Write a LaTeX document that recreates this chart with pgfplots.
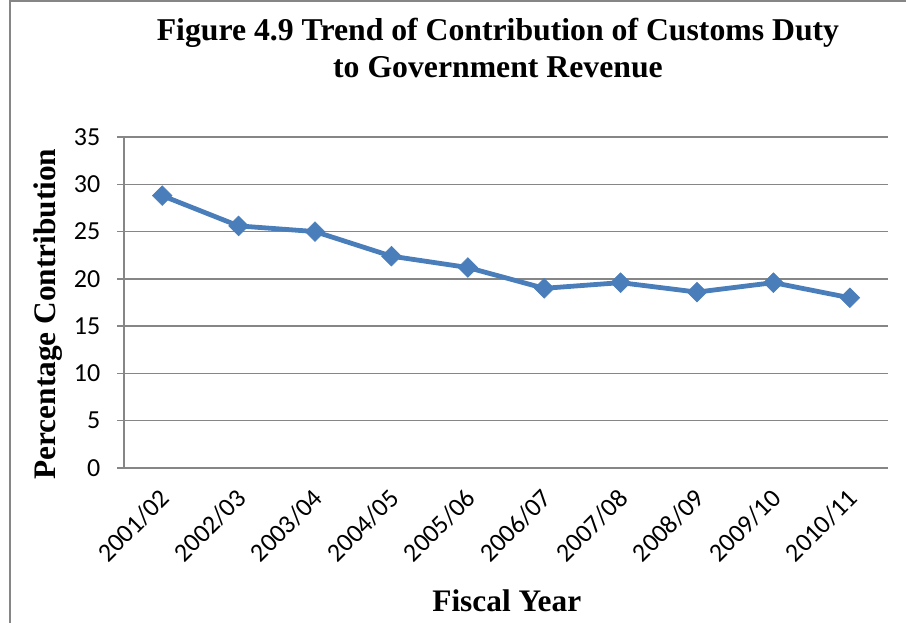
\documentclass[border=0pt]{standalone}
\usepackage{pgfplots}
\pgfplotsset{compat=1.18}
\usepackage{fontspec}
\setmainfont{Liberation Serif}
\newfontfamily\calibri{Carlito}
\definecolor{excelblue}{HTML}{4A7EBB}
\definecolor{gridgray}{HTML}{868686}
\begin{document}
\begin{tikzpicture}
\path[use as bounding box] (0pt,0pt) rectangle (679.5pt,466.5pt);
\draw[gridgray, line width=0.9pt] (7.5pt,-5pt)--(7.5pt,465.8pt)--(685pt,465.8pt);
\begin{axis}[
  at={(93pt,115.5pt)}, anchor=south west,
  scale only axis, width=573pt, height=248.25pt,
  xmin=-0.5, xmax=9.5, ymin=0, ymax=35,
  xtick={0,...,9},
  xticklabels={2001/02,2002/03,2003/04,2004/05,2005/06,2006/07,2007/08,2008/09,2009/10,2010/11},
  ytick={0,5,...,35},
  ymajorgrids, grid style={gridgray, line width=1pt},
  axis lines*=left,
  axis line style={gridgray, line width=1pt},
  tick align=outside,
  major tick length=5.25pt,
  ytick style={gridgray, line width=1pt},
  xtick style={draw=none},
  /pgf/number format/assume math mode=true,
  ticklabel style={font=\calibri\fontsize{19.5}{24}\selectfont, text=black},
  xticklabel style={rotate=45, anchor=north east, xshift=-5pt, yshift=-1pt},
  yticklabel style={xshift=-9pt},
  title={Figure 4.9 Trend of Contribution of Customs Duty\\to Government Revenue},
  title style={at={(axis description cs:0.4895,1.246)}, anchor=center, align=center, font=\bfseries\fontsize{23.8}{27.75}\selectfont},
  xlabel={Fiscal Year},
  xlabel style={at={(axis description cs:0.501,-0.402)}, anchor=center, font=\bfseries\fontsize{23.5}{27}\selectfont},
  ylabel={Percentage Contribution},
  ylabel style={at={(axis description cs:-0.0995,0.465)}, anchor=center, font=\bfseries\fontsize{23.5}{27}\selectfont},
  clip=false,
]
\addplot[excelblue, line width=3.6pt, mark=square*, mark size=5.2pt, mark options={rotate=45, line width=0.5pt, fill=excelblue}]
  coordinates {(0,28.8)(1,25.6)(2,25.0)(3,22.4)(4,21.2)(5,19.0)(6,19.6)(7,18.6)(8,19.6)(9,18.0)};
\end{axis}
\end{tikzpicture}
\end{document}
